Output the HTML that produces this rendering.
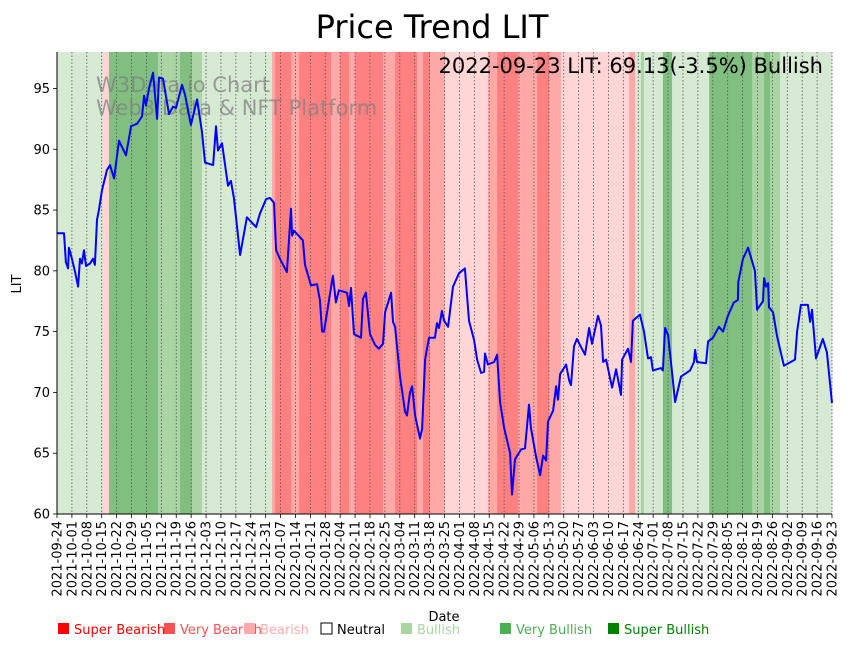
<!DOCTYPE html>
<html><head><meta charset="utf-8">
<style>
body{margin:0;background:#fff;}
svg text{font-family:"DejaVu Sans","Liberation Sans",sans-serif;}
</style></head>
<body>
<svg id="chart" width="848" height="646" viewBox="0 0 848 646" xmlns="http://www.w3.org/2000/svg">
<rect width="848" height="646" fill="#fff"/>
<g id="bands"></g>
<g id="grid"></g>
<text x="96" y="92" font-size="21" fill="#808080" fill-opacity="0.75">W3Data.io Chart</text>
<text x="96" y="115" font-size="21" fill="#808080" fill-opacity="0.75">Web3 Data &amp; NFT Platform</text>
<g id="series"></g>
<g id="axes"></g>
<text x="432" y="38" font-size="32" text-anchor="middle">Price Trend LIT</text>
<text x="823" y="73" font-size="21" text-anchor="end">2022-09-23 LIT: 69.13(-3.5%) Bullish</text>
<text x="444" y="621" font-size="13" text-anchor="middle">Date</text>
<text transform="translate(21,284) rotate(-90)" font-size="13" text-anchor="middle">LIT</text>
<g id="legend"></g>
</svg>
<script>
const NS="http://www.w3.org/2000/svg";
// ---- data ----
const startDate="2021-09-24";
const totalDays=364;
const yTicks=[60,65,70,75,80,85,90,95];
const bandStarts=[0,21.5,24.4,47.4,57.8,63.4,68.1,101,102.4,110,113.7,128.7,132.9,137.2,140,153.1,158.8,169.1,171.9,175.2,182.2,202.4,206.7,216.5,225.5,231.1,236.7,268.7,271.5,274.3,275.7,284.6,288.9,306.3,326.5,332.1,334.9,339.6];
const bandLevels=[1,-1,3,2,3,2,1,-2,-3,-2,-3,-2,-3,-2,-3,-2,-3,-2,-3,-2,-1,-2,-3,-2,-3,-2,-1,-2,1,2,1,3,1,3,2,3,2,1];
const priceDays=[0,3.3,4.2,5.2,5.6,7,8.5,9.9,10.8,11.7,12.7,13.6,15.5,16.9,17.8,18.8,19.7,21.1,23.5,24.9,26.8,29.1,32.4,34.8,37.6,39.9,40.9,41.8,43.2,45.1,47,47.9,49.8,52.6,54.5,55.9,58.7,60.1,62.9,65.8,68.1,69.5,73.3,74.7,75.6,77.5,80.3,81.7,83.1,86,89.2,93.5,95.3,98.2,100,101.9,102.9,104.7,108,109.9,110.4,111.3,115.5,116.5,119.3,122.1,123.5,124.5,125.4,129.6,131,132.4,136.2,137.2,138.1,139.5,142.8,143.7,145.1,147,149.4,151.2,153.1,154.1,156.9,157.8,158.8,161.1,163.5,164.4,165.8,166.8,168.2,170.5,171.5,172.9,174.7,177.5,178.5,179.4,180.8,181.8,183.7,186,188.8,191.6,193.5,195.9,197.3,199.2,200.6,201,202.4,205.3,206.7,208.1,210,212.8,213.7,215.1,217.9,219.8,221.7,222.6,225,226.9,228.3,229.7,230.6,233,234.4,235.3,236.3,239.1,240.5,241.4,242.8,244.2,248,249.9,251.3,254.1,255.5,256.5,257.9,260.7,262.6,264.9,265.4,268.2,269.6,270.5,273.8,275.7,277.6,279,279.9,283.7,284.6,285.6,287,288.9,290.3,293.1,297.3,299.2,299.7,300.6,304.8,305.8,308.1,310.9,312.8,315.1,317.9,319.8,320,322.2,324.6,327.8,328.8,331.6,332.1,333,334,334.4,336.3,338.2,341.4,346.6,347.6,349.4,352.7,353.7,354.6,356.5,359.7,361.6,364];
const priceValues=[83.1,83.1,80.7,80.2,81.9,81,79.9,78.7,81,80.6,81.7,80.4,80.6,81,80.5,84.2,85,86.6,88.3,88.7,87.6,90.7,89.5,91.9,92.1,92.7,94.4,93.6,95,96.3,92.5,95.9,95.8,92.9,93.5,93.4,95.3,94.5,92,94.1,91.4,88.9,88.7,91.9,89.9,90.5,87,87.4,86,81.3,84.4,83.6,84.7,85.9,86,85.6,81.7,81,79.9,85.1,82.9,83.3,82.5,80.5,78.8,78.9,77.6,75,75,79.6,77.4,78.4,78.2,77.1,78.6,74.8,74.5,77.7,78.2,74.8,73.9,73.6,74,76.6,78.2,75.8,75.4,71.3,68.4,68.1,70,70.5,68.1,66.2,67,72.7,74.5,74.5,75.7,75.3,76.7,75.9,75.4,78.7,79.8,80.2,75.9,74.3,72.7,71.6,71.7,73.2,72.3,72.5,73.1,69.2,67.1,65,61.6,64.5,65.3,65.4,69,67.1,64.7,63.2,64.8,64.4,67.6,68.5,70.5,69.4,71.5,72.3,71,70.6,73.8,74.4,73.1,75.3,74,76.3,75.5,72.5,72.7,70.4,71.9,69.8,72.7,73.6,72.5,75.9,76.4,75,72.8,72.9,71.8,72,71.8,75.3,74.7,71.6,69.2,71.3,71.8,72.5,73.5,72.5,72.4,74.2,74.5,75.4,75,76.3,77.4,77.6,79.1,81,81.9,80,76.8,77.5,79.4,78.7,79,77,76.6,74.6,72.2,72.7,75,77.2,77.2,75.8,76.8,72.8,74.4,73.3,69.13];
const legendLabels=["Super Bearish","Very Bearish","Bearish","Neutral","Bullish","Very Bullish","Super Bullish"];
const legendColors=["#ff0000","#ff5050","#ffaaaa","none","#a8d5a0","#4caf50","#008000"];
// ---- scales ----
const X0=57,X1=832,Y0=514,Y1=52,YMIN=60,YMAX=98;
const xs=d=>X0+(d/totalDays)*(X1-X0);
const ys=v=>Y0-(v-YMIN)/(YMAX-YMIN)*(Y0-Y1);
const levelColor={"-3":"#ff8080","-2":"#ffa8a8","-1":"#ffd5d5","0":"#ffffff","1":"#d5e9d3","2":"#aad4a4","3":"#80bf80"};
function mk(tag,attrs,parent){const e=document.createElementNS(NS,tag);for(const k in attrs)e.setAttribute(k,attrs[k]);parent.appendChild(e);return e;}
const bands=document.getElementById('bands');
bandStarts.forEach((s,i)=>{
  const e=(i+1<bandStarts.length)?bandStarts[i+1]:totalDays;
  const r=mk('rect',{x:xs(s),y:Y1,width:xs(e)-xs(s)+0.3,height:Y0-Y1,fill:levelColor[bandLevels[i]]},bands);
  
  
});
const grid=document.getElementById('grid'),axes=document.getElementById('axes');
const base=new Date(startDate+"T00:00:00Z");
for(let d=0;d<=totalDays;d+=7){
  const x=xs(d);
  const g=mk('line',{x1:x,x2:x,y1:Y1,y2:Y0,stroke:'#555','stroke-width':0.8,'stroke-dasharray':'1.5,2'},grid);
  
  
  const t=mk('line',{x1:x,x2:x,y1:Y0,y2:Y0+4,stroke:'#000','stroke-width':0.8},axes);
  
  
  const dt=new Date(base.getTime()+d*86400000);
  const lbl=dt.toISOString().slice(0,10);
  const tx=mk('text',{transform:`translate(${x+4.5},${Y0+7}) rotate(-90)`,'font-size':13,'text-anchor':'end'},axes);
  tx.textContent=lbl;
  
  
}
yTicks.forEach(v=>{
  const y=ys(v);
  const t=mk('line',{x1:X0-4,x2:X0,y1:y,y2:y,stroke:'#000','stroke-width':0.8},axes);
  
  
  const tx=mk('text',{x:X0-7,y:y+4.5,'font-size':13,'text-anchor':'end'},axes);
  tx.textContent=v;
  
  
});
const ax=mk('line',{x1:X0,x2:X0,y1:Y1,y2:Y0,stroke:'#000','stroke-width':1},axes);


const bx=mk('line',{x1:X0,x2:X1,y1:Y0,y2:Y0,stroke:'#000','stroke-width':1},axes);


const pts=priceDays.map((d,i)=>xs(d).toFixed(1)+','+ys(priceValues[i]).toFixed(1)).join(' ');
const pl=mk('polyline',{points:pts,fill:'none',stroke:'#0000ff','stroke-width':2,'stroke-linejoin':'round'},document.getElementById('series'));


const legend=document.getElementById('legend');
const legendX=[57,163,243,320,400,499,607];
legendLabels.forEach((l,i)=>{
  const x=legendX[i];
  const sq=mk('rect',{x:x+1,y:623,width:11,height:11,fill:legendColors[i]==='none'?'#fff':legendColors[i],stroke:legendColors[i]==='none'?'#000':'none','stroke-width':1},legend);
  
  
  const t=mk('text',{x:x+17,y:634,'font-size':13,fill:legendColors[i]==='none'?'#000':legendColors[i]},legend);
  t.textContent=l;
  
  
});
</script>
</body></html>
